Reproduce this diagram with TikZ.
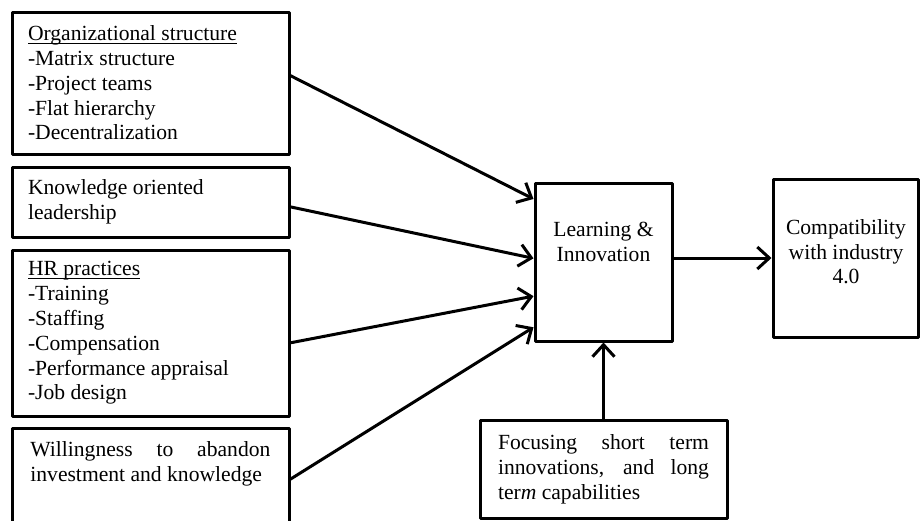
\documentclass[tikz,border=0pt]{standalone}
\usepackage{fontspec}
\setmainfont{Liberation Serif}
\usetikzlibrary{arrows.meta}
\hyphenpenalty=10000
\newlength\ulw
\newcommand\undl[1]{\settowidth\ulw{#1}#1\llap{\rule[-1.6pt]{\ulw}{0.5pt}}}
\begin{document}
\begin{tikzpicture}[x=0.5pt, y=-0.5pt, line join=round, font=\fontsize{10.8}{12.4}\selectfont,
		blk/.style={draw, line width=1.5pt, inner xsep=8pt, inner ysep=0pt},
		lnk/.style={line width=1.5pt, -{Straight Barb[length=6pt,width=11pt]}}]
	\useasboundingbox (0,0) rectangle (920,520);
	% left column
	\node[blk, minimum width=138.5pt, minimum height=71pt, text width=122.5pt, align=flush left] (org) at (150.5,83)
		{\undl{Organizational structure}\\-Matrix structure\\-Project teams\\-Flat hierarchy\\-Decentralization};
	\node[blk, minimum width=138.5pt, minimum height=35pt, text width=122.5pt, align=flush left] (know) at (150.5,202)
		{Knowledge oriented\\leadership};
	\node[blk, minimum width=138.5pt, minimum height=83pt, text width=122.5pt, align=flush left] (hr) at (150.5,333)
		{\undl{HR practices}\\-Training\\-Staffing\\-Compensation\\-Performance appraisal\\-Job design};
	\node[blk, minimum width=138.5pt, minimum height=56pt] (will) at (150.5,484) {};
	\node[anchor=north west, inner sep=0pt, text width=120pt, align=justify] (willtxt) at (30,441)
		{Willingness to abandon investment and knowledge};
	% middle and right
	\node[blk, minimum width=68.5pt, minimum height=79pt] (learn) at (603.5,262) {};
	\node[anchor=north, inner sep=0pt, align=flush center] (learntxt) at (603.5,222) {Learning \&\\Innovation};
	\node[blk, minimum width=72.5pt, minimum height=79pt] (compat) at (845.5,258) {};
	\node[anchor=north, inner sep=0pt, align=flush center] (compattxt) at (846,219) {Compatibility\\with industry\\4.0};
	\node[blk, minimum width=123.5pt, minimum height=49pt, text width=105.5pt, align=justify] (focus) at (603.5,469)
		{Focusing short term innovations, and long ter\textit{m} capabilities};
	% arrows
	\draw[lnk] (org.3) -- (learn.138);
	\draw[lnk] (know.-2) -- (learn.177);
	\draw[lnk] (hr.-4) -- (learn.206);
	\draw[lnk] (will.2) -- (learn.223);
	\draw[lnk] (learn.east |- compat.west) -- (compat.west);
	\draw[lnk] (focus.north) -- (learn.south);
\end{tikzpicture}
\end{document}
